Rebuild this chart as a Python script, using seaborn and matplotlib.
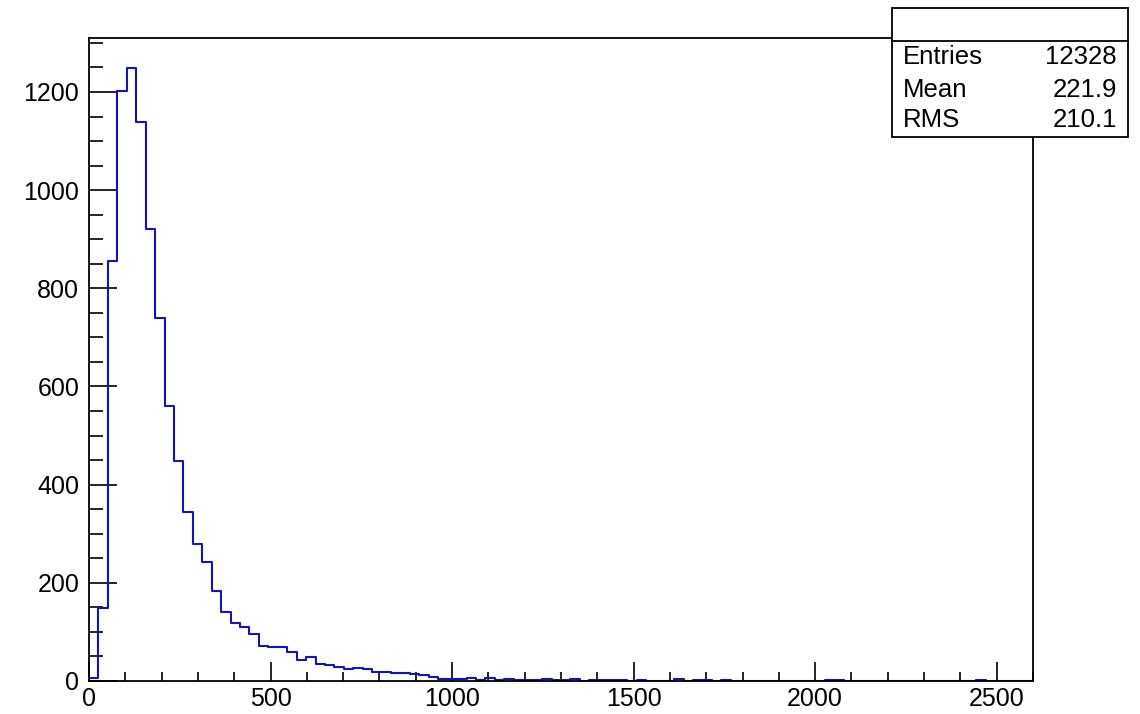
import numpy as np
import pandas as pd
import matplotlib
matplotlib.use("Agg")
import matplotlib.pyplot as plt
from matplotlib.patches import Rectangle
from matplotlib.lines import Line2D
from matplotlib.ticker import MultipleLocator
import seaborn as sns

# ---- data ----
x_min, x_max, n_bins = 0, 2600, 100
counts = [
    7, 148, 855, 1203, 1249, 1139, 921, 740, 561, 448,
    344, 279, 242, 183, 141, 119, 110, 95, 71, 69,
    70, 59, 42, 48, 34, 32, 29, 24, 27, 24,
    19, 18, 17, 16, 14, 13, 8, 5, 5, 4,
    6, 3, 6, 2, 5, 3, 2, 2, 4, 2,
    2, 4, 1, 2, 2, 2, 2, 1, 2, 1,
    1, 1, 5, 0, 2, 2, 1, 2, 1, 1,
    0, 0, 1, 0, 0, 1, 0, 0, 3, 2,
    0, 0, 0, 1, 0, 0, 1, 0, 1, 0,
    1, 1, 0, 0, 3, 0, 0, 0, 0, 0,
]
stat_labels = ["Entries", "Mean", "RMS"]
stat_values = ["12328", "221.9", "210.1"]
x_ticks = [0, 500, 1000, 1500, 2000, 2500]
y_ticks = [0, 200, 400, 600, 800, 1000, 1200]

bin_w = (x_max - x_min) / n_bins
edges = np.linspace(x_min, x_max, n_bins + 1)
centers = 0.5 * (edges[:-1] + edges[1:])
df = pd.DataFrame({"x": centers, "w": counts})

sns.set_style("white")
plt.rcParams["font.family"] = ["Liberation Sans", "DejaVu Sans"]
plt.rcParams["text.color"] = "black"

fig = plt.figure(figsize=(11.4, 7.14), dpi=100)
ax = fig.add_axes([89 / 1140, 1 - 681 / 714, (1033 - 89) / 1140, (681 - 38) / 714])

sns.histplot(data=df, x="x", weights="w", binwidth=bin_w, binrange=(x_min, x_max),
             element="step", fill=False, color="#1414b4", linewidth=1.5, ax=ax)

ax.set_xlim(x_min, x_max)
ax.set_ylim(0, 1310)
ax.set_xlabel("")
ax.set_ylabel("")
ax.set_xticks(x_ticks)
ax.set_yticks(y_ticks)
ax.xaxis.set_minor_locator(MultipleLocator(100))
ax.yaxis.set_minor_locator(MultipleLocator(50))
ax.tick_params(axis="x", which="major", direction="in", length=13.5, width=1.2,
               labelsize=18, pad=4, bottom=True, top=False, colors="black")
ax.tick_params(axis="x", which="minor", direction="in", length=6.8, width=1.2,
               bottom=True, top=False, colors="black")
ax.tick_params(axis="y", which="major", direction="in", length=20, width=1.2,
               labelsize=18, pad=7, left=True, right=False, colors="black")
ax.tick_params(axis="y", which="minor", direction="in", length=10, width=1.2,
               left=True, right=False, colors="black")
for s in ax.spines.values():
    s.set_visible(True)
    s.set_color("black")
    s.set_linewidth(1.3)

# ---- stat box ----
W, H = 1140, 714
def fx(px):
    return px / W
def fy(py):
    return 1 - py / H

box = Rectangle((fx(892), fy(137)), fx(1128) - fx(892), fy(8) - fy(137),
                transform=fig.transFigure, facecolor="white", edgecolor="black",
                linewidth=1.3, zorder=10)
fig.patches.append(box)
fig.lines.append(Line2D([fx(892), fx(1128)], [fy(41), fy(41)], transform=fig.transFigure,
                        color="black", linewidth=1.3, zorder=11))
row_y = [57, 90, 120]
for lab, val, ry in zip(stat_labels, stat_values, row_y):
    fig.text(fx(903), fy(ry), lab, ha="left", va="center", fontsize=18.5,
             color="black", zorder=12)
    fig.text(fx(1117), fy(ry), val, ha="right", va="center", fontsize=18.5,
             color="black", zorder=12)

fig.savefig("out.png", dpi=100, facecolor="white")
